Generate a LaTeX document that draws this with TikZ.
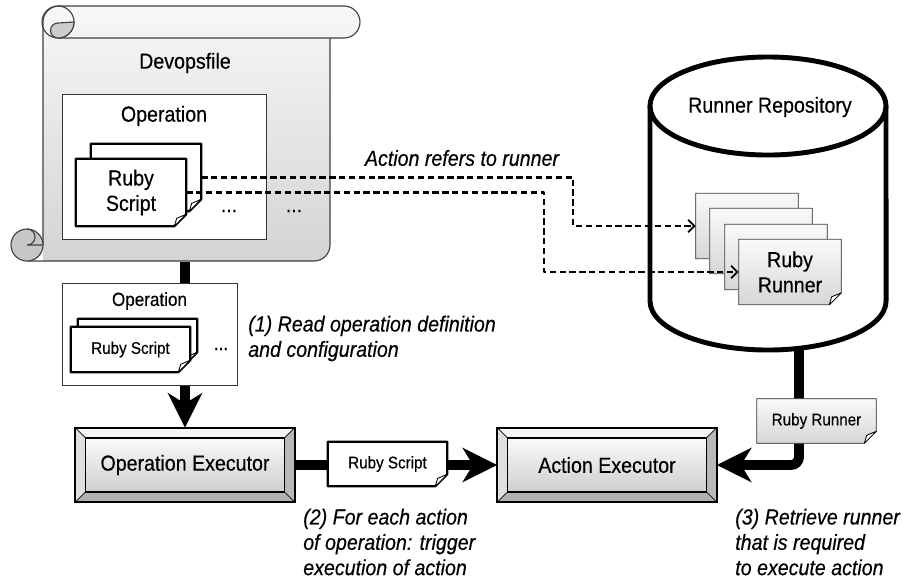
\documentclass[tikz,border=0pt]{standalone}
\usepackage{fontspec}
\setmainfont{Liberation Sans}[FakeStretch=0.9, FakeBold=0.35]
\usetikzlibrary{arrows.meta}

\pgfdeclarelayer{flow}
\pgfdeclarelayer{paper}
\pgfsetlayers{flow,paper,main}

\tikzset{
  lbl/.style = {inner sep=0pt, align=center, font=\fontsize{15.5}{18}\selectfont},
  midlbl/.style = {lbl, font=\fontsize{13.5}{16}\selectfont},
  smalllbl/.style = {lbl, font=\fontsize{12}{14}\selectfont},
  note/.style = {inner sep=0pt, align=left, anchor=west, font=\fontsize{15.5}{18}\selectfont\itshape},
  opframe/.style = {draw=black!80, fill=white, line width=0.6pt, inner sep=0pt},
  docnode/.style = {inner sep=0pt},
  execnode/.style = {lbl, minimum width=5.475cm, minimum height=1.85cm},
  scriptpg/.style = {draw=black, fill=white, line width=1.5pt, line join=round},
  runnerpg/.style = {draw=black!75, line width=0.6pt, top color=gray!4, bottom color=gray!32},
  flapfill/.style = {draw=black, fill=white, line width=0.6pt, line join=round},
  flowline/.style = {line width=7pt, -{Stealth[length=0.875cm, width=0.875cm, inset=0.27cm, line width=0pt]}},
  refline/.style = {line width=1.6pt, dash pattern=on 4.5pt off 2.5pt, -{Straight Barb[length=4.5pt, width=9pt, line width=1.3pt]}},
  repoline/.style = {line width=3.5pt},
  scrollline/.style = {draw=black!75, line width=0.8pt}
}

% page with a folded corner round a node
\newcommand\pagefold[2]{
  \filldraw[#2] (#1.north west) -- (#1.north east) -- ([yshift=0.3cm]#1.south east)
    -- ([xshift=-0.3cm]#1.south east) -- (#1.south west) -- cycle;
  \filldraw[flapfill] ([xshift=-0.3cm]#1.south east) -- ([yshift=0.3cm]#1.south east)
    -- ([shift={(-0.24cm,0.2cm)}]#1.south east) -- cycle;
}

% bevelled button round a node
\newcommand\bevel[1]{
  \filldraw[fill=gray!8] (#1.north west) -- (#1.north east) -- ([shift={(-0.26cm,-0.26cm)}]#1.north east) -- ([shift={(0.26cm,-0.26cm)}]#1.north west) -- cycle;
  \filldraw[fill=gray!25] (#1.north west) -- (#1.south west) -- ([shift={(0.26cm,0.26cm)}]#1.south west) -- ([shift={(0.26cm,-0.26cm)}]#1.north west) -- cycle;
  \filldraw[fill=gray!55] (#1.north east) -- (#1.south east) -- ([shift={(-0.26cm,0.26cm)}]#1.south east) -- ([shift={(-0.26cm,-0.26cm)}]#1.north east) -- cycle;
  \filldraw[fill=gray!60] (#1.south west) -- (#1.south east) -- ([shift={(-0.26cm,0.26cm)}]#1.south east) -- ([shift={(0.26cm,0.26cm)}]#1.south west) -- cycle;
  \draw[line width=1pt, top color=gray!4, bottom color=gray!38] ([shift={(0.26cm,-0.26cm)}]#1.north west) rectangle ([shift={(-0.26cm,0.26cm)}]#1.south east);
  \draw[line width=1.5pt] (#1.north west) rectangle (#1.south east);
}

\begin{document}
\begin{tikzpicture}[x=0.025cm, y=-0.025cm, line join=round]
\useasboundingbox (0,0) rectangle (921,581);

% texts and places
\node[lbl] (devops) at (185,63) {Devopsfile};
\node[lbl] (optoplbl) at (164,116) {Operation};
\node[docnode, minimum width=2.75cm, minimum height=1.675cm] (sback) at (146,177.5) {};
\node[docnode, lbl, minimum width=2.75cm, minimum height=1.675cm] (sfront) at (131,192.5) {Ruby\\Script};
\node[lbl] (dotsin) at (229,211) {...};
\node[lbl] (dotsout) at (294,211) {...};

\node[midlbl] (opmidlbl) at (149.5,301) {Operation};
\node[docnode, minimum width=2.975cm, minimum height=1.125cm] (mback) at (137.5,341.5) {};
\node[docnode, smalllbl, minimum width=2.975cm, minimum height=1.125cm] (mfront) at (130.5,349.5) {Ruby Script};
\node[midlbl] (dotsmid) at (221,349) {...};

\node[execnode] (opexec) at (185,465) {Operation Executor};
\node[execnode] (actexec) at (607,465) {Action Executor};
\node[docnode, smalllbl, minimum width=2.975cm, minimum height=1.1cm] (script) at (387.5,464) {Ruby Script};
\node[docnode, smalllbl, minimum width=2.975cm, minimum height=1.1cm] (runner) at (816.5,421) {Ruby Runner};

\node[lbl] (repo) at (770,107) {Runner Repository};
\coordinate (repobot) at (799,348);
\coordinate (scrollbot) at (185,262);
\foreach \n/\x/\y in {rp1/747/226, rp2/761/241, rp3/776/257}
  \node[docnode, minimum width=2.55cm, minimum height=1.625cm] (\n) at (\x,\y) {};
\node[docnode, lbl, minimum width=2.55cm, minimum height=1.625cm] (rp4) at (790,272) {Ruby\\Runner};

\node[note, anchor=center] (refnote) at (462,158) {Action refers to runner};
\node[note] (readnote) at (248,338.5) {(1) Read operation definition\\and configuration};
\node[note] (actnote) at (303,542) {(2) For each action\\of operation: trigger\\execution of action};
\node[note] (runnote) at (735,542) {(3) Retrieve runner\\that is required\\to execute action};

% shapes
\begin{pgfonlayer}{paper}
  % scroll
  \path[top color=gray!6, bottom color=gray!34] (43,22) -- (43,261) -- (314,261)
    arc[start angle=-90, end angle=0, radius=0.4cm] -- (330,38) -- (344,38)
    arc[start angle=-90, end angle=90, radius=0.4cm] -- (58,6)
    arc[start angle=90, end angle=180, radius=0.4cm] -- cycle;
  \draw[scrollline] (43,245) -- (43,22) arc[start angle=180, end angle=90, radius=0.4cm]
    -- (344,6) arc[start angle=90, end angle=-90, radius=0.4cm] -- (58,38);
  \draw[scrollline] (330,38) -- (330,245) arc[start angle=0, end angle=-90, radius=0.4cm] -- (27,261);
  \draw[scrollline] (58,22) circle[radius=0.4cm];
  \filldraw[scrollline, fill=gray!40] (74,22) arc[start angle=0, end angle=-90, radius=0.4cm]
    arc[start angle=-90, end angle=-270, radius=0.1875cm] -- cycle;
  \filldraw[scrollline, fill=gray!45] (27,245) circle[radius=0.4cm];
  \draw[scrollline] (27,229) arc[start angle=90, end angle=-90, radius=0.2cm] -- (43,245);

  \node[opframe, minimum width=5.1cm, minimum height=3.625cm] (optop) at (164,166.5) {};
  \pagefold{sback}{scriptpg}
  \pagefold{sfront}{scriptpg}
  \node[opframe, minimum width=4.375cm, minimum height=2.55cm] (opmid) at (149.5,334) {};
  \pagefold{mback}{scriptpg}
  \pagefold{mfront}{scriptpg}
  \bevel{opexec}
  \bevel{actexec}
  \pagefold{script}{scriptpg}

  % repository
  \draw[repoline] (650,106) -- (650,301) arc[start angle=180, end angle=360, x radius=2.95cm, y radius=1.225cm] -- (886,106);
  \draw[repoline] (768,106) ellipse[x radius=2.95cm, y radius=1.225cm];
  \foreach \n in {rp1,rp2,rp3,rp4}{
    \pagefold{\n}{runnerpg}
  }
  \pagefold{runner}{runnerpg}
\end{pgfonlayer}

% connectors
\begin{pgfonlayer}{flow}
  \draw[flowline] (scrollbot) -- (opexec);
  \draw[flowline] (opexec) -- (actexec);
  \draw[flowline, rounded corners=0.2cm] (repobot) |- (actexec);
\end{pgfonlayer}
\draw[refline] (sback.east) -- ++(372,0) |- (rp1);
\draw[refline] (sfront.east) -- ++(358,0) |- (rp4);
\end{tikzpicture}
\end{document}
